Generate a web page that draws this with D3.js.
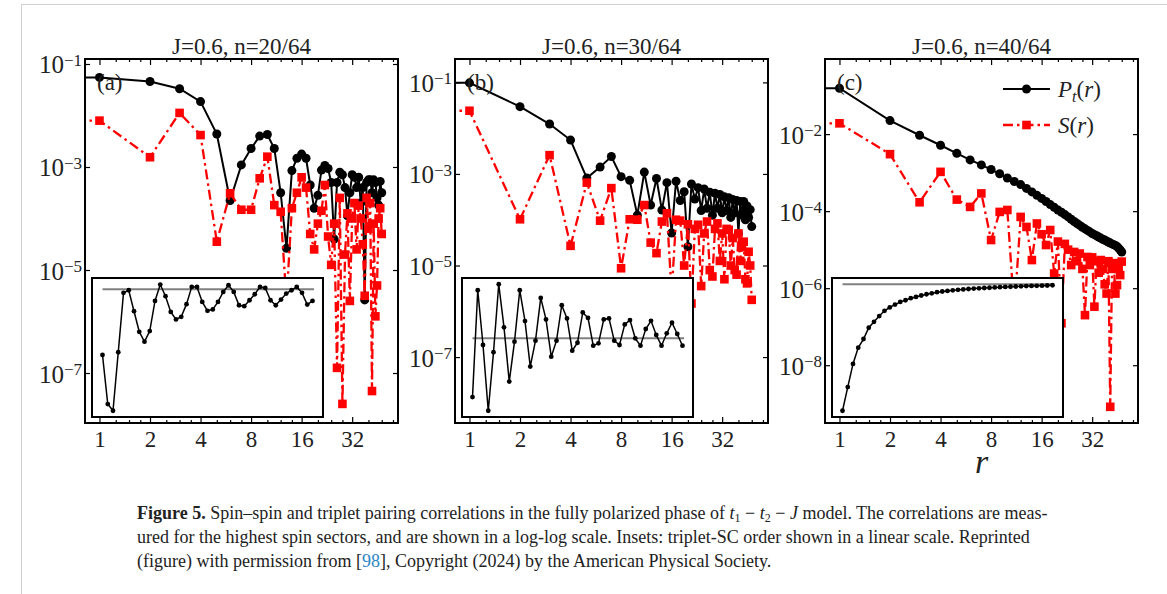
<!DOCTYPE html>
<html>
<head>
<meta charset="utf-8">
<script src="https://cdn.jsdelivr.net/npm/d3@7"></script>
<style>
  body { margin: 0; background: #fff; }
  svg text { font-family: "Liberation Serif", "Times New Roman", serif; fill: #222; }
</style>
</head>
<body>
<svg id="fig" width="1167" height="594"></svg>
<script>
// separation r for the main panels, and site index for the insets
const distances = d3.range(1, 49);
const insetSites = d3.range(1, 42);

// log10 of P_t(r) and S(r)
const ptA = [-1.26,-1.34,-1.48,-1.73,-2.36,-3.65,-2.96,-2.64,-2.40,-2.37,-2.64,-3.50,-4.58,-3.07,-2.83,-2.75,
  -2.83,-3.35,-3.80,-3.55,-3.06,-2.97,-3.03,-3.30,-4.40,-3.30,-3.10,-3.15,-3.40,-3.95,-3.50,-3.15,
  -3.20,-3.40,-3.20,-3.70,-3.40,-5.58,-3.30,-3.25,-3.25,-3.50,-3.25,-3.30,-3.60,-3.74,-3.28,-3.50];
const sA = [-2.10,-2.81,-1.95,-2.38,-4.45,-3.51,-3.83,-3.83,-3.22,-2.80,-3.74,-3.87,-5.60,-3.80,-3.50,-3.20,
  -3.40,-4.30,-4.60,-4.10,-3.85,-3.35,-4.35,-4.90,-4.10,-6.90,-3.60,-7.60,-4.70,-3.90,-5.60,-4.00,
  -3.70,-4.60,-3.75,-4.00,-4.50,-5.50,-3.60,-4.20,-3.70,-7.35,-4.10,-5.90,-5.30,-4.00,-3.80,-4.30];
const ptB = [-1.01,-1.53,-1.91,-2.26,-3.09,-2.85,-2.62,-3.06,-3.14,-3.90,-2.96,-3.68,-3.10,-3.79,-3.19,-4.29,
  -3.16,-3.58,-3.39,-4.59,-3.22,-3.55,-3.30,-3.80,-3.33,-3.75,-3.40,-3.90,-3.42,-3.75,-3.45,-3.85,
  -3.50,-3.80,-3.52,-3.95,-3.56,-3.85,-3.58,-4.30,-3.60,-3.90,-3.60,-4.00,-3.70,-3.95,-3.78,-4.15];
const sB = [-1.62,-3.99,-2.59,-4.57,-3.19,-4.02,-3.31,-5.06,-3.99,-4.00,-3.68,-4.50,-4.73,-4.04,-3.86,-5.60,
  -4.00,-4.02,-5.00,-4.10,-5.83,-4.20,-4.11,-5.45,-4.30,-4.04,-5.10,-5.24,-4.20,-4.08,-4.90,-4.30,
  -5.30,-4.20,-4.22,-5.00,-4.40,-5.10,-5.20,-4.30,-4.90,-4.60,-4.48,-5.30,-5.39,-4.70,-5.00,-5.75];
const ptC = [-0.81,-1.65,-2.03,-2.29,-2.50,-2.67,-2.80,-2.92,-3.03,-3.14,-3.23,-3.31,-3.41,-3.50,-3.59,-3.67,
  -3.75,-3.83,-3.90,-3.97,-4.03,-4.09,-4.15,-4.21,-4.27,-4.32,-4.37,-4.42,-4.46,-4.50,-4.54,-4.58,
  -4.61,-4.64,-4.67,-4.70,-4.73,-4.75,-4.78,-4.80,-4.83,-4.85,-4.87,-4.89,-4.92,-4.96,-5.01,-5.06];
const sC = [-1.72,-2.52,-3.77,-2.98,-3.70,-3.89,-3.54,-4.75,-4.02,-3.97,-6.60,-4.15,-4.41,-5.27,-4.32,-4.60,
  -4.88,-4.49,-5.62,-4.79,-6.91,-4.85,-5.00,-5.40,-5.06,-5.30,-5.10,-5.50,-6.70,-5.19,-5.40,-5.20,
  -6.48,-5.30,-5.60,-5.27,-5.50,-5.90,-6.14,-5.30,-9.08,-5.50,-5.35,-6.14,-5.92,-5.50,-5.66,-5.31];

// insets: triplet-SC order on a linear scale (arbitrary units) and its reference level
const insetA = [0.446,0.093,0.045,0.466,0.893,0.912,0.761,0.613,0.542,0.618,0.835,0.953,0.869,0.756,0.702,0.721,
  0.812,0.936,0.936,0.828,0.764,0.774,0.828,0.900,0.948,0.900,0.804,0.797,0.840,0.883,0.936,0.928,
  0.840,0.804,0.845,0.888,0.912,0.936,0.893,0.809,0.835];
const insetB = [0.143,0.912,0.518,0.045,0.466,0.955,0.645,0.255,0.542,0.912,0.690,0.363,0.549,0.857,0.702,0.434,
  0.549,0.804,0.709,0.477,0.534,0.752,0.713,0.513,0.530,0.702,0.709,0.549,0.518,0.666,0.697,0.566,
  0.513,0.633,0.692,0.590,0.513,0.602,0.678,0.597,0.513];
const insetC = [0.045,0.215,0.382,0.499,0.561,0.642,0.685,0.726,0.764,0.788,0.809,0.828,0.840,0.855,0.864,0.874,
  0.883,0.890,0.898,0.903,0.907,0.911,0.915,0.918,0.921,0.924,0.926,0.928,0.930,0.932,0.934,0.936,
  0.937,0.939,0.940,0.942,0.943,0.944,0.945,0.946,0.948];
const insetRef = [0.919, 0.566, 0.955];

const titles = ['J=0.6, n=20/64', 'J=0.6, n=30/64', 'J=0.6, n=40/64'];
const panelLabels = ['(a)', '(b)', '(c)'];
const yDomains = [[1.07e-8, 0.125], [3.63e-9, 0.324], [3.16e-10, 0.891]];
const yTickExps = [[-1, -3, -5, -7], [-1, -3, -5, -7], [-2, -4, -6, -8]];
const xTicks = [1, 2, 4, 8, 16, 32];
const xMinorTicks = [1.25, 1.5, 1.75, 2.5, 3, 3.5, 5, 6, 7, 10, 12, 14, 20, 24, 28, 40, 48, 56];

const panels = [
  {pt: ptA, s: sA, inset: insetA},
  {pt: ptB, s: sB, inset: insetB},
  {pt: ptC, s: sC, inset: insetC}
];

const svg = d3.select('#fig');
svg.append('rect').attr('width', 1167).attr('height', 594).attr('fill', '#fff');

// faint page frame
svg.append('line').attr('x1', 21).attr('x2', 1167).attr('y1', 4.5).attr('y2', 4.5)
  .attr('stroke', '#d0d0d0').attr('stroke-width', 1);
svg.append('line').attr('x1', 21.5).attr('x2', 21.5).attr('y1', 4).attr('y2', 594)
  .attr('stroke', '#d0d0d0').attr('stroke-width', 1);

const W = 313, H = 364, plotTop = 59;
const lefts = [85, 455, 825];
const RED = '#ff0000';

panels.forEach((p, i) => {
  const g = svg.append('g').attr('transform', `translate(${lefts[i]},${plotTop})`);
  const x = d3.scaleLog().base(2).domain([0.82, 60]).range([0, W]);
  const y = d3.scaleLog().domain(yDomains[i]).range([H, 0]);

  g.append('clipPath').attr('id', 'clip' + i)
    .append('rect').attr('width', W).attr('height', H);

  // title
  svg.append('text').attr('x', lefts[i] + W / 2).attr('y', 54)
    .attr('text-anchor', 'middle').attr('font-size', 23).text(titles[i]);

  const plot = g.append('g').attr('clip-path', `url(#clip${i})`);

  const toPts = arr => {
    const pts = distances.map((r, k) => ({r: r, v: Math.pow(10, arr[k])}));
    // the r=0 entry sits far off to the left on a log axis: line runs flat into the edge
    return [{r: x.domain()[0] / 2, v: pts[0].v}].concat(pts);
  };
  const line = d3.line().x(d => x(d.r)).y(d => y(d.v));

  const ptPts = toPts(p.pt), sPts = toPts(p.s);

  plot.append('path').attr('d', line(ptPts)).attr('fill', 'none')
    .attr('stroke', '#000').attr('stroke-width', 2);
  plot.selectAll('circle.pt').data(ptPts.slice(1)).join('circle').attr('class', 'pt')
    .attr('cx', d => x(d.r)).attr('cy', d => y(d.v)).attr('r', 4.5).attr('fill', '#000');

  plot.append('path').attr('d', line(sPts)).attr('fill', 'none')
    .attr('stroke', RED).attr('stroke-width', 2.3).attr('stroke-dasharray', '10,4,2.5,4');
  plot.selectAll('rect.s').data(sPts.slice(1)).join('rect').attr('class', 's')
    .attr('x', d => x(d.r) - 4.3).attr('y', d => y(d.v) - 4.3)
    .attr('width', 8.6).attr('height', 8.6).attr('fill', RED);

  // axes, ticks pointing inward on all four sides
  const styleAxis = a => {
    a.select('.domain').remove();
    a.selectAll('.tick line').attr('stroke', '#000').attr('stroke-width', 1.2);
  };
  g.append('g').attr('transform', `translate(0,${H})`)
    .call(d3.axisBottom(x).tickValues(xTicks).tickSize(-6).tickPadding(8).tickFormat(d3.format('d')))
    .call(styleAxis)
    .call(a => a.selectAll('text').attr('font-size', 23).attr('fill', '#222')
      .attr('font-family', '"Liberation Serif", serif'));
  g.append('g').attr('transform', `translate(0,${H})`)
    .call(d3.axisBottom(x).tickValues(xMinorTicks).tickSize(-3).tickFormat(''))
    .call(styleAxis);
  g.append('g')
    .call(d3.axisTop(x).tickValues(xTicks).tickSize(-6).tickFormat(''))
    .call(styleAxis);
  g.append('g')
    .call(d3.axisTop(x).tickValues(xMinorTicks).tickSize(-3).tickFormat(''))
    .call(styleAxis);

  const yVals = yTickExps[i].map(e => Math.pow(10, e));
  const yl = g.append('g')
    .call(d3.axisLeft(y).tickValues(yVals).tickSize(-5).tickFormat(''))
    .call(styleAxis);
  yl.selectAll('.tick').each(function(d) {
    const t = d3.select(this).append('text').attr('x', -3).attr('dy', '0.36em')
      .attr('text-anchor', 'end').attr('font-size', 25).attr('fill', '#222')
      .attr('font-family', '"Liberation Serif", serif');
    t.append('tspan').text('10');
    t.append('tspan').attr('dy', '-0.45em').attr('font-size', 17)
      .text('\u2212' + Math.abs(Math.round(Math.log10(d))));
  });
  g.append('g').attr('transform', `translate(${W},0)`)
    .call(d3.axisRight(y).tickValues(yVals).tickSize(-5).tickFormat(''))
    .call(styleAxis);

  g.append('rect').attr('width', W).attr('height', H).attr('fill', 'none')
    .attr('stroke', '#000').attr('stroke-width', 2);

  g.append('text').attr('x', 12).attr('y', 31).attr('font-size', 23).text(panelLabels[i]);

  // inset
  const ig = g.append('g').attr('transform', 'translate(7,219)');
  const iw = 231, ih = 139;
  const ix = d3.scaleLinear().domain([-1, 43]).range([0, iw]);
  const iy = d3.scaleLinear().domain([0, 1]).range([ih, 0]);
  ig.append('rect').attr('width', iw).attr('height', ih).attr('fill', '#fff')
    .attr('stroke', '#000').attr('stroke-width', 2);
  ig.append('line').attr('x1', ix(insetSites[0])).attr('x2', ix(insetSites[insetSites.length - 1] + 0.3))
    .attr('y1', iy(insetRef[i])).attr('y2', iy(insetRef[i]))
    .attr('stroke', '#808080').attr('stroke-width', 2);
  const iPts = insetSites.map((s, k) => ({s: s, v: p.inset[k]}));
  ig.append('path').attr('d', d3.line().x(d => ix(d.s)).y(d => iy(d.v))(iPts))
    .attr('fill', 'none').attr('stroke', '#000').attr('stroke-width', 1.5);
  ig.selectAll('circle').data(iPts).join('circle')
    .attr('cx', d => ix(d.s)).attr('cy', d => iy(d.v)).attr('r', 2.4).attr('fill', '#000');

  if (i === 2) {
    // legend
    const lg = g.append('g').attr('transform', 'translate(178,30)');
    lg.append('line').attr('x1', 0).attr('x2', 47).attr('stroke', '#000').attr('stroke-width', 2);
    lg.append('circle').attr('cx', 23.5).attr('r', 4.5).attr('fill', '#000');
    const t1 = lg.append('text').attr('x', 55).attr('dy', '0.35em').attr('font-size', 23);
    t1.append('tspan').attr('font-style', 'italic').text('P');
    t1.append('tspan').attr('font-style', 'italic').attr('font-size', 16).attr('dy', 5).text('t');
    t1.append('tspan').attr('dy', -5).text('(');
    t1.append('tspan').attr('font-style', 'italic').text('r');
    t1.append('tspan').text(')');

    lg.append('line').attr('x1', 0).attr('x2', 47).attr('y1', 36).attr('y2', 36)
      .attr('stroke', RED).attr('stroke-width', 2.3).attr('stroke-dasharray', '10,4,2.5,4');
    lg.append('rect').attr('x', 23.5 - 4.3).attr('y', 36 - 4.3).attr('width', 8.6).attr('height', 8.6)
      .attr('fill', RED);
    const t2 = lg.append('text').attr('x', 55).attr('y', 36).attr('dy', '0.35em').attr('font-size', 23);
    t2.append('tspan').attr('font-style', 'italic').text('S');
    t2.append('tspan').text('(');
    t2.append('tspan').attr('font-style', 'italic').text('r');
    t2.append('tspan').text(')');

    g.append('text').attr('x', W / 2).attr('y', 414).attr('text-anchor', 'middle')
      .attr('font-size', 34).attr('font-style', 'italic').text('r');
  }
});

// caption
const cap = svg.append('g').attr('font-size', 18);
const l1 = cap.append('text').attr('x', 137).attr('y', 519);
l1.append('tspan').attr('font-weight', 'bold').text('Figure 5.');
l1.append('tspan').text(' Spin\u2013spin and triplet pairing correlations in the fully polarized phase of ');
l1.append('tspan').attr('font-style', 'italic').text('t');
l1.append('tspan').attr('font-size', 12).attr('dy', 3).text('1');
l1.append('tspan').attr('dy', -3).text(' \u2212 ');
l1.append('tspan').attr('font-style', 'italic').text('t');
l1.append('tspan').attr('font-size', 12).attr('dy', 3).text('2');
l1.append('tspan').attr('dy', -3).text(' \u2212 ');
l1.append('tspan').attr('font-style', 'italic').text('J');
l1.append('tspan').text(' model. The correlations are meas-');
cap.append('text').attr('x', 137).attr('y', 543)
  .text('ured for the highest spin sectors, and are shown in a log-log scale. Insets: triplet-SC order shown in a linear scale. Reprinted');
const l3 = cap.append('text').attr('x', 137).attr('y', 567);
l3.append('tspan').text('(figure) with permission from [');
l3.append('tspan').style('fill', '#2b86c5').text('98');
l3.append('tspan').text('], Copyright (2024) by the American Physical Society.');
</script>
</body>
</html>
